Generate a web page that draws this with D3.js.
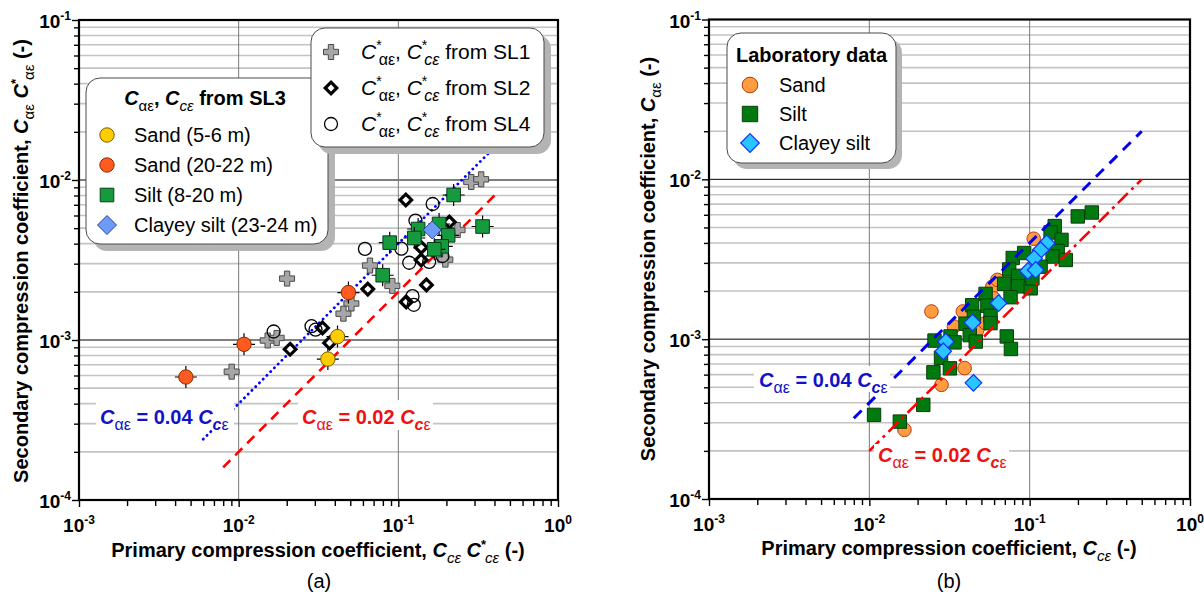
<!DOCTYPE html>
<html>
<head>
<meta charset="utf-8">
<script src="https://cdn.jsdelivr.net/npm/d3@7"></script>
<style>
  body { margin: 0; background: #fff; }
  text { font-family: "Liberation Sans", Arial, sans-serif; }
</style>
</head>
<body>
<svg id="chart" width="1204" height="595"></svg>
<script>
// ---------- data: [Cce, Cae] pairs ----------
// (a) field data, SL3 with error crosses
const sl3Sand56 = [[0.0416, 0.00105], [0.0362, 0.00076]];
const sl3Sand2022 = [[0.0487, 0.00198], [0.0108, 0.00094], [0.00467, 0.000587]];
const sl3Silt = [[0.222, 0.00806], [0.337, 0.00512], [0.133, 0.00494], [0.180, 0.00531], [0.205, 0.00451],
  [0.126, 0.00434], [0.0883, 0.00406], [0.187, 0.00385], [0.168, 0.00369], [0.0798, 0.00254]];
const sl3ClayeySilt = [[0.163, 0.00487]];
// (a) starred coefficients from SL1, SL2, SL4
const sl1 = [[0.286, 0.00972], [0.330, 0.0101], [0.235, 0.00487], [0.197, 0.00318], [0.0664, 0.00292],
  [0.0917, 0.00218], [0.0201, 0.00242], [0.0508, 0.00169], [0.0453, 0.00146], [0.0152, 0.000993],
  [0.0173, 0.00103], [0.00904, 0.000634]];
const sl2 = [[0.1114, 0.0075], [0.2085, 0.00546], [0.139, 0.00379], [0.139, 0.00316], [0.150, 0.00221],
  [0.0644, 0.00208], [0.112, 0.00173], [0.0335, 0.00119], [0.0371, 0.000958], [0.0210, 0.000875]];
const sl4 = [[0.164, 0.00708], [0.128, 0.00558], [0.0618, 0.00371], [0.1045, 0.00372], [0.117, 0.00304],
  [0.156, 0.00308], [0.189, 0.00335], [0.1227, 0.00188], [0.125, 0.00166], [0.0286, 0.00122],
  [0.0303, 0.00116], [0.01656, 0.00113]];
// (b) laboratory data
const labSand = [[0.106, 0.00425], [0.0585, 0.00213], [0.0244, 0.00149], [0.0383, 0.00149], [0.0337, 0.0012],
  [0.0471, 0.00114], [0.0531, 0.00126], [0.0393, 0.000659], [0.0282, 0.000518], [0.01656, 0.000271],
  [0.0629, 0.00235], [0.0598, 0.0018]];
const labSilt = [[0.1995, 0.00586], [0.244, 0.0062], [0.1433, 0.0051], [0.135, 0.00465], [0.158, 0.00418],
  [0.1496, 0.00356], [0.139, 0.00329], [0.168, 0.00313], [0.117, 0.00284], [0.0784, 0.00322],
  [0.0924, 0.00346], [0.0745, 0.00273], [0.0693, 0.00222], [0.0847, 0.00249], [0.0847, 0.00214],
  [0.1015, 0.00208], [0.076, 0.00183], [0.0531, 0.00192], [0.0438, 0.00163], [0.0545, 0.00162],
  [0.0449, 0.00138], [0.057, 0.0014], [0.057, 0.00126], [0.0398, 0.00125], [0.0423, 0.00106],
  [0.0461, 0.000966], [0.072, 0.00104], [0.0764, 0.000868], [0.0255, 0.00098], [0.0321, 0.00104],
  [0.034, 0.000955], [0.028, 0.000764], [0.0318, 0.000657], [0.0251, 0.00062], [0.0217, 0.000388],
  [0.0107, 0.000336], [0.0155, 0.000305], [0.104, 0.0024]];
const labClayeySilt = [[0.1277, 0.00398], [0.117, 0.00361], [0.1064, 0.0032], [0.0975, 0.00267],
  [0.109, 0.00271], [0.064, 0.00168], [0.044, 0.00127], [0.03, 0.000964], [0.0289, 0.00084],
  [0.0446, 0.000533]];
// reference lines Cae = 0.04 Cce and Cae = 0.02 Cce (end points)
const lineHighA = [[0.006, 0.00024], [0.4, 0.016]];
const lineLowA = [[0.008, 0.00016], [0.4, 0.008]];
const lineHighB = [[0.008, 0.00032], [0.5, 0.02]];
const lineLowB = [[0.01, 0.0002], [0.5, 0.01]];
// axis decades
const xExponents = [-3, -2, -1, 0];
const yExponents = [-4, -3, -2, -1];

// ---------- helpers ----------
const svg = d3.select("#chart");

function rich(sel, parts, base) {
  let shift = 0;
  parts.forEach(p => {
    const ts = sel.append("tspan").text(p.t);
    const target = p.sub ? base * 0.28 : p.sup ? -base * 0.42 : 0;
    if (target !== shift) { ts.attr("dy", target - shift); shift = target; }
    if (p.sub || p.sup) ts.attr("font-size", p.size || Math.round(base * 0.68));
    if (p.it) ts.attr("font-style", "italic");
    if (p.w) ts.attr("font-weight", p.w);
    if (p.dx) ts.attr("dx", p.dx);
  });
  return sel;
}

const shapes = {
  circle: s => `M${-s},0A${s},${s} 0 1,0 ${s},0A${s},${s} 0 1,0 ${-s},0Z`,
  square: s => `M${-s},${-s}H${s}V${s}H${-s}Z`,
  diamond: s => `M0,${-s}L${s},0L0,${s}L${-s},0Z`,
  plus: s => { const w = s * 0.36; return `M${-w},${-s}H${w}V${-w}H${s}V${w}H${w}V${s}H${-w}V${w}H${-s}V${-w}H${-w}Z`; }
};

function marker(g, st) {
  return g.append("path").attr("d", shapes[st.shape](st.size))
    .attr("fill", st.fill).attr("stroke", st.stroke).attr("stroke-width", st.sw)
    .attr("stroke-linejoin", "miter");
}

function drawSeries(g, data, sx, sy, st) {
  const pts = g.append("g").selectAll("g").data(data).join("g")
    .attr("transform", d => `translate(${sx(d[0])},${sy(d[1])})`);
  if (st.cross) {
    pts.append("path").attr("d", "M-11,0H11M0,-11V11")
      .attr("stroke", "#000").attr("stroke-width", 1.2);
  }
  pts.each(function () { marker(d3.select(this), st); });
}

function makePanel(P) {
  const x = d3.scaleLog().domain([1e-3, 1]).range([P.x0, P.x1]);
  const y = d3.scaleLog().domain([1e-4, 1e-1]).range([P.y1, P.y0]);
  const g = svg.append("g");

  // horizontal minor grid
  const minorY = [];
  yExponents.slice(0, 3).forEach(e => { for (let k = 2; k <= 9; k++) minorY.push(k * Math.pow(10, e)); });
  g.append("g").selectAll("line").data(minorY).join("line")
    .attr("x1", P.x0).attr("x2", P.x1).attr("y1", d => y(d)).attr("y2", d => y(d))
    .attr("stroke", "#c3c3c3").attr("stroke-width", 1.6);
  // major grid
  g.append("g").selectAll("line").data([1e-3, 1e-2]).join("line")
    .attr("x1", P.x0).attr("x2", P.x1).attr("y1", d => y(d)).attr("y2", d => y(d))
    .attr("stroke", "#000").attr("stroke-width", 1);
  g.append("g").selectAll("line").data([1e-2, 1e-1]).join("line")
    .attr("y1", P.y0).attr("y2", P.y1).attr("x1", d => x(d)).attr("x2", d => x(d))
    .attr("stroke", "#7a7a7a").attr("stroke-width", 1);

  // ticks
  const minorX = [];
  xExponents.slice(0, 3).forEach(e => { for (let k = 2; k <= 9; k++) minorX.push(k * Math.pow(10, e)); });
  const majX = xExponents.map(e => Math.pow(10, e));
  const majY = yExponents.map(e => Math.pow(10, e));
  const axB = g.append("g").attr("transform", `translate(0,${P.y1})`);
  axB.append("g").call(d3.axisBottom(x).tickValues(minorX).tickSize(6).tickFormat(""));
  axB.append("g").call(d3.axisBottom(x).tickValues(majX).tickSize(7).tickFormat(""));
  const axL = g.append("g").attr("transform", `translate(${P.x0},0)`);
  axL.append("g").call(d3.axisLeft(y).tickValues(minorY).tickSize(5).tickFormat(""));
  axL.append("g").call(d3.axisLeft(y).tickValues(majY).tickSize(7).tickFormat(""));
  g.selectAll(".domain").remove();
  g.selectAll(".tick line").attr("stroke", "#000").attr("stroke-width", 1.4);

  // tick labels
  xExponents.forEach(e => {
    const t = g.append("text").attr("x", x(Math.pow(10, e))).attr("y", P.y1 + 32)
      .attr("text-anchor", "middle").attr("font-size", 19).attr("font-weight", "bold");
    rich(t, [{ t: "10" }, { t: String(e), sup: true, size: 12 }], 19);
  });
  yExponents.forEach(e => {
    const t = g.append("text").attr("x", P.x0 - 8).attr("y", y(Math.pow(10, e)) + 8)
      .attr("text-anchor", "end").attr("font-size", 19).attr("font-weight", "bold");
    rich(t, [{ t: "10" }, { t: String(e), sup: true, size: 12 }], 19);
  });

  // frame
  g.append("rect").attr("x", P.x0).attr("y", P.y0).attr("width", P.x1 - P.x0).attr("height", P.y1 - P.y0)
    .attr("fill", "none").attr("stroke", "#000").attr("stroke-width", 2.2);

  return { g, x, y };
}

function refLine(g, pts, x, y, color, dash, width) {
  g.append("path").attr("d", d3.line().x(d => x(d[0])).y(d => y(d[1]))(pts))
    .attr("fill", "none").attr("stroke", color).attr("stroke-width", width)
    .attr("stroke-dasharray", dash).attr("stroke-linecap", dash.startsWith("0.") ? "round" : "butt");
}

function lineLabel(g, bx, by, bw, bh, tx, ty, coef, color) {
  g.append("rect").attr("x", bx).attr("y", by).attr("width", bw).attr("height", bh).attr("fill", "#fff");
  const t = g.append("text").attr("x", tx).attr("y", ty).attr("fill", color)
    .attr("font-size", 20).attr("font-weight", "bold");
  rich(t, [{ t: "C", it: true }, { t: "αε", sub: true, size: 16, w: "normal" },
    { t: " = " + coef + " " }, { t: "C", it: true }, { t: "c", sub: true, size: 16, it: true },
    { t: "ε", sub: true, size: 16, w: "normal" }], 20);
}

function legendBox(g, x0, y0, w, h, off) {
  g.append("rect").attr("x", x0 + off).attr("y", y0 + off).attr("width", w).attr("height", h)
    .attr("rx", 14).attr("fill", "#b4b4b4");
  g.append("rect").attr("x", x0).attr("y", y0).attr("width", w).attr("height", h)
    .attr("rx", 14).attr("fill", "#fff").attr("stroke", "#4a4a4a").attr("stroke-width", 1);
}

// ---------- marker styles ----------
const stA = {
  sl1: { shape: "plus", size: 7.5, fill: "#a6a6a6", stroke: "#4a4a4a", sw: 1 },
  sl2: { shape: "diamond", size: 5.8, fill: "#fff", stroke: "#000", sw: 3.2 },
  sl4: { shape: "circle", size: 6.5, fill: "none", stroke: "#000", sw: 1.3 },
  sand56: { shape: "circle", size: 7.2, fill: "#ffcc00", stroke: "#7a5c00", sw: 1, cross: true },
  sand2022: { shape: "circle", size: 7.2, fill: "#ff5a1f", stroke: "#8a2a00", sw: 1, cross: true },
  silt: { shape: "square", size: 6.8, fill: "#169a3e", stroke: "#0b3d1b", sw: 1, cross: true },
  clayey: { shape: "diamond", size: 9, fill: "#6b9cf7", stroke: "#2f3f9a", sw: 1 }
};
const stB = {
  sand: { shape: "circle", size: 6.8, fill: "#ff9c40", stroke: "#b83a12", sw: 1 },
  silt: { shape: "square", size: 6.7, fill: "#007a0f", stroke: "#0a3d0a", sw: 1 },
  clayey: { shape: "diamond", size: 8.3, fill: "#29c5ff", stroke: "#1030ff", sw: 1.2 }
};

// ---------- panel (a) ----------
const A = makePanel({ x0: 79, x1: 558, y0: 20, y1: 500 });
refLine(A.g, lineHighA, A.x, A.y, "#0000ff", "0.1,5.2", 2.8);
refLine(A.g, lineLowA, A.x, A.y, "#ff0000", "10,7", 2.6);
lineLabel(A.g, 96, 400, 138, 30, 100, 424, "0.04", "#1212c8");
lineLabel(A.g, 298, 400, 135, 30, 302, 424, "0.02", "#f01010");
drawSeries(A.g, sl1, A.x, A.y, stA.sl1);
drawSeries(A.g, sl2, A.x, A.y, stA.sl2);
drawSeries(A.g, sl4, A.x, A.y, stA.sl4);
drawSeries(A.g, sl3Sand56, A.x, A.y, stA.sand56);
drawSeries(A.g, sl3Sand2022, A.x, A.y, stA.sand2022);
drawSeries(A.g, sl3Silt, A.x, A.y, stA.silt);
drawSeries(A.g, sl3ClayeySilt, A.x, A.y, stA.clayey);

// legend: SL3
legendBox(A.g, 86, 78, 242, 166, 7);
{
  const t = A.g.append("text").attr("x", 205).attr("y", 105).attr("text-anchor", "middle")
    .attr("font-size", 20).attr("font-weight", "bold");
  rich(t, [{ t: "C", it: true }, { t: "αε", sub: true, size: 15, w: "normal" }, { t: ", " },
    { t: "C", it: true }, { t: "cε", sub: true, size: 15, w: "normal", it: true }, { t: " from SL3" }], 20);
  const items = [["Sand (5-6 m)", stA.sand56], ["Sand (20-22 m)", stA.sand2022],
    ["Silt (8-20 m)", stA.silt], ["Clayey silt (23-24 m)", stA.clayey]];
  items.forEach((it, i) => {
    const cy = 135 + i * 30;
    marker(A.g.append("g").attr("transform", `translate(107,${cy})`), Object.assign({}, it[1], it[1].shape === "diamond" ? { size: 9.5 } : {}));
    A.g.append("text").attr("x", 134).attr("y", cy + 7).attr("font-size", 20).text(it[0]);
  });
}
// legend: SL1, SL2, SL4
legendBox(A.g, 311, 28, 233, 119, 7);
[["SL1", stA.sl1], ["SL2", stA.sl2], ["SL4", stA.sl4]].forEach((it, i) => {
  const cy = 52 + i * 36;
  marker(A.g.append("g").attr("transform", `translate(331,${cy})`), it[1]);
  const t = A.g.append("text").attr("x", 361).attr("y", cy + 7).attr("font-size", 21);
  rich(t, [{ t: "C", it: true }, { t: "*", sup: true, size: 14 }, { t: "αε", sub: true, size: 16, dx: -3 },
    { t: ", " }, { t: "C", it: true }, { t: "*", sup: true, size: 14 }, { t: "cε", sub: true, size: 16, it: true, dx: -3 },
    { t: " from " + it[0] }], 21);
});

// axis titles (a)
{
  const t = A.g.append("text").attr("transform", "translate(28,261) rotate(-90)")
    .attr("text-anchor", "middle").attr("font-size", 20).attr("font-weight", "bold");
  rich(t, [{ t: "Secondary compression coefficient, " }, { t: "C", it: true },
    { t: "αε", sub: true, size: 15, w: "normal" }, { t: "   C", it: true }, { t: "*", sup: true, size: 13 },
    { t: "αε", sub: true, size: 15, w: "normal", dx: -1 }, { t: " (-)" }], 20);
  const u = A.g.append("text").attr("x", 318).attr("y", 557)
    .attr("text-anchor", "middle").attr("font-size", 20).attr("font-weight", "bold");
  rich(u, [{ t: "Primary compression coefficient, " }, { t: "C", it: true },
    { t: "cε", sub: true, size: 15, w: "normal", it: true }, { t: "   C", it: true }, { t: "*", sup: true, size: 13 },
    { t: "cε", sub: true, size: 15, w: "normal", it: true, dx: -1 }, { t: " (-)" }], 20);
  A.g.append("text").attr("x", 319).attr("y", 588).attr("text-anchor", "middle")
    .attr("font-size", 20).text("(a)");
}

// ---------- panel (b) ----------
const B = makePanel({ x0: 709, x1: 1190, y0: 19.5, y1: 499 });
drawSeries(B.g, labSand, B.x, B.y, stB.sand);
drawSeries(B.g, labSilt, B.x, B.y, stB.silt);
drawSeries(B.g, labClayeySilt, B.x, B.y, stB.clayey);
refLine(B.g, lineHighB, B.x, B.y, "#0000ee", "11,8", 3);
refLine(B.g, lineLowB, B.x, B.y, "#ff0000", "14,5,3,5", 2.6);
lineLabel(B.g, 754, 366, 136, 26, 759, 387, "0.04", "#1212c8");
lineLabel(B.g, 874, 444, 135, 23, 878, 462, "0.02", "#f01010");

legendBox(B.g, 727, 33, 169, 130, 6);
B.g.append("text").attr("x", 736).attr("y", 62).attr("font-size", 20).attr("font-weight", "bold")
  .text("Laboratory data");
[["Sand", stB.sand], ["Silt", stB.silt], ["Clayey silt", stB.clayey]].forEach((it, i) => {
  const cy = 85 + i * 29;
  marker(B.g.append("g").attr("transform", `translate(750,${cy})`), Object.assign({}, it[1], { size: it[1].size + 1 }));
  B.g.append("text").attr("x", 779).attr("y", cy + 7).attr("font-size", 20).text(it[0]);
});

{
  const t = B.g.append("text").attr("transform", "translate(655,259) rotate(-90)")
    .attr("text-anchor", "middle").attr("font-size", 20).attr("font-weight", "bold");
  rich(t, [{ t: "Secondary compression coefficient, " }, { t: "C", it: true },
    { t: "αε", sub: true, size: 15, w: "normal" }, { t: " (-)" }], 20);
  const u = B.g.append("text").attr("x", 949).attr("y", 555)
    .attr("text-anchor", "middle").attr("font-size", 20).attr("font-weight", "bold");
  rich(u, [{ t: "Primary compression coefficient, " }, { t: "C", it: true },
    { t: "cε", sub: true, size: 15, w: "normal", it: true }, { t: " (-)" }], 20);
  B.g.append("text").attr("x", 949).attr("y", 588).attr("text-anchor", "middle")
    .attr("font-size", 20).text("(b)");
}
</script>
</body>
</html>
